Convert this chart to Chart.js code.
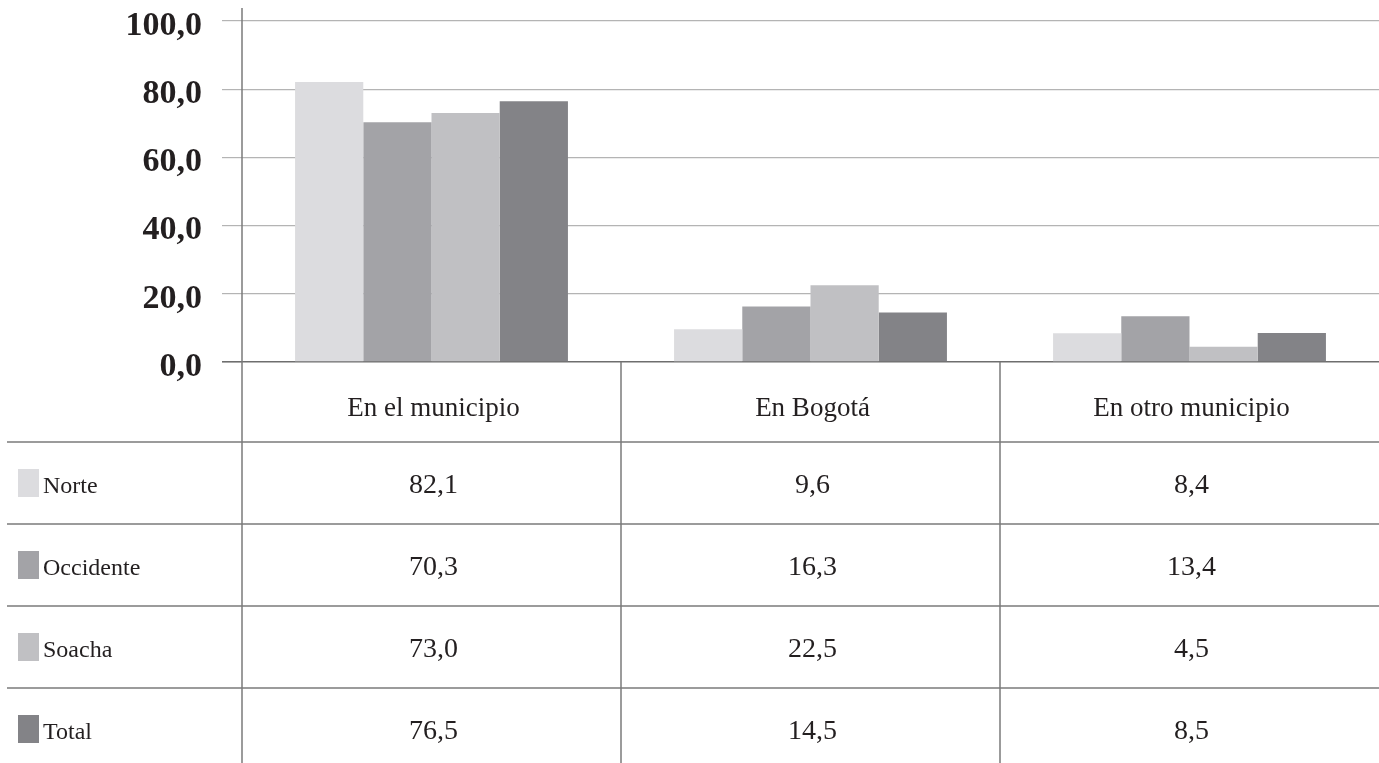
<!DOCTYPE html>
<html>
<head>
<meta charset="utf-8">
<script src="https://cdn.jsdelivr.net/npm/chart.js@4"></script>
<style>
  html, body { margin: 0; padding: 0; background: #ffffff; }
  #wrap { width: 1379px; height: 763px; }
</style>
</head>
<body>
<div id="wrap"><canvas id="c" width="1379" height="763"></canvas></div>
<script>
const categories = ["En el municipio", "En Bogotá", "En otro municipio"];
const seriesNames = ["Norte", "Occidente", "Soacha", "Total"];
const norte = [82.1, 9.6, 8.4];
const occidente = [70.3, 16.3, 13.4];
const soacha = [73.0, 22.5, 4.5];
const total = [76.5, 14.5, 8.5];
const seriesColors = ["#dcdcdf", "#a3a3a7", "#c0c0c3", "#838387"];
const yTicks = [0, 20, 40, 60, 80, 100];

const SERIF = "'Liberation Serif', 'DejaVu Serif', serif";
const TEXT = "#231f20";
const LINE = "#7a7a7a";

function fmt(v) { return v.toFixed(1).replace('.', ','); }

const tablePlugin = {
  id: 'tablePlugin',
  afterDraw(chart) {
    const ctx = chart.ctx;
    const area = chart.chartArea;
    const xs = chart.scales.x;
    const W = chart.width, H = chart.height;
    const n = chart.data.labels.length;
    const catW = (area.right - area.left) / n;
    const headerH = 80, rowH = 82;
    ctx.save();
    ctx.strokeStyle = LINE;
    ctx.lineWidth = 1.5;
    ctx.beginPath();
    ctx.moveTo(area.left, 8);
    ctx.lineTo(area.left, H);
    ctx.stroke();
    for (let i = 1; i < n; i++) {
      const x = xs.getPixelForValue(i) - catW / 2;
      ctx.beginPath();
      ctx.moveTo(x, area.bottom);
      ctx.lineTo(x, H);
      ctx.stroke();
    }
    const ds = chart.data.datasets;
    for (let r = 0; r < ds.length; r++) {
      const y = area.bottom + headerH + r * rowH;
      ctx.beginPath();
      ctx.moveTo(7, y);
      ctx.lineTo(W, y);
      ctx.stroke();
    }
    ctx.fillStyle = TEXT;
    ctx.textAlign = 'center';
    ctx.textBaseline = 'middle';
    ctx.font = "27px " + SERIF;
    chart.data.labels.forEach((lab, i) => {
      ctx.fillText(lab, xs.getPixelForValue(i) + 2, area.bottom + headerH / 2 + 7);
    });
    ds.forEach((d, r) => {
      const yTop = area.bottom + headerH + r * rowH;
      const yMid = yTop + rowH / 2;
      ctx.fillStyle = d.backgroundColor;
      ctx.fillRect(18, yMid - 14, 21, 28);
      ctx.fillStyle = TEXT;
      ctx.textAlign = 'left';
      ctx.font = "24px " + SERIF;
      ctx.fillText(d.label, 43, yMid + 4);
      ctx.textAlign = 'center';
      ctx.font = "28px " + SERIF;
      d.data.forEach((v, i) => {
        ctx.fillText(fmt(v), xs.getPixelForValue(i) + 2, yMid + 3);
      });
    });
    ctx.restore();
  }
};

const seriesData = [norte, occidente, soacha, total];
new Chart(document.getElementById('c'), {
  type: 'bar',
  data: {
    labels: categories,
    datasets: seriesNames.map((name, i) => ({
      label: name,
      data: seriesData[i],
      backgroundColor: seriesColors[i],
      borderWidth: 0,
      barPercentage: 1.0,
      categoryPercentage: 0.72
    }))
  },
  options: {
    responsive: false,
    animation: false,
    devicePixelRatio: 1,
    layout: { padding: { top: 21, right: 0, left: 0, bottom: 0 } },
    plugins: { legend: { display: false }, tooltip: { enabled: false }, title: { display: false } },
    scales: {
      x: {
        offset: true,
        grid: { display: false },
        border: { display: false },
        ticks: { display: false },
        afterFit(scale) { scale.height = 401; }
      },
      y: {
        min: 0,
        max: 100,
        afterBuildTicks(scale) { scale.ticks = yTicks.map(v => ({ value: v })); },
        afterFit(scale) { scale.width = 242; scale.paddingTop = 10; scale.paddingBottom = 0; },
        border: { display: false },
        grid: {
          color: (c) => (c.tick && c.tick.value === 0) ? '#6e6e6e' : '#b4b4b4',
          lineWidth: (c) => (c.tick && c.tick.value === 0) ? 1.6 : 1.2,
          tickLength: 20,
          drawTicks: true
        },
        ticks: {
          padding: 20,
          labelOffset: 5,
          color: TEXT,
          font: { family: SERIF, size: 34, weight: 'bold' },
          callback: (v) => fmt(Number(v))
        }
      }
    }
  },
  plugins: [tablePlugin]
});
</script>
</body>
</html>
